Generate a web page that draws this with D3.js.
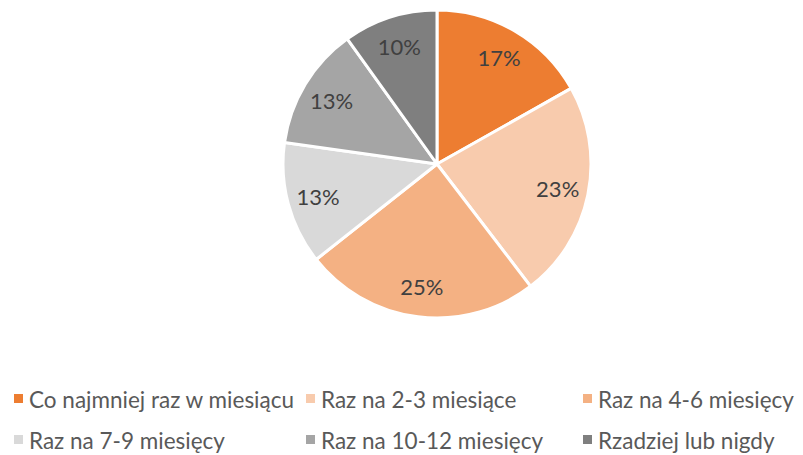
<!DOCTYPE html>
<html><head><meta charset="utf-8">
<script src="https://cdn.jsdelivr.net/npm/d3@7"></script>
<style>body{margin:0;background:#fff}svg{display:block}</style>
</head><body>
<svg id="c" width="803" height="455"></svg>
<script>
const categories = ["Co najmniej raz w miesiącu","Raz na 2-3 miesiące","Raz na 4-6 miesięcy","Raz na 7-9 miesięcy","Raz na 10-12 miesięcy","Rzadziej lub nigdy"];
const values = [17,23,25,13,13,10];
const colors = ["#ED7D31","#F8CBAD","#F4B183","#D9D9D9","#A5A5A5","#7F7F7F"];

const svg = d3.select("#c");
const font = "Lato, 'Open Sans', sans-serif";
const cx = 437, cy = 164, r = 154;
const pie = d3.pie().sort(null).value(d=>d);
const arcs = pie(values);
const arc = d3.arc().innerRadius(0).outerRadius(r);
const labelArc = d3.arc().innerRadius(r*0.8).outerRadius(r*0.8);
const g = svg.append("g").attr("transform",`translate(${cx},${cy})`);
g.selectAll("path").data(arcs).join("path")
  .attr("d",arc).attr("fill",(d,i)=>colors[i])
  .attr("stroke","#fff").attr("stroke-width",3).attr("stroke-linejoin","round");
g.selectAll("text").data(arcs).join("text")
  .attr("transform",d=>`translate(${labelArc.centroid(d)})`)
  .attr("text-anchor","middle").attr("dominant-baseline","central")
  .attr("font-family",font).attr("font-size",22).attr("fill","#404040")
  .text(d=>d.data+"%");

const colX = [14, 306, 583], rowY = [399, 440];
const lg = svg.append("g");
categories.forEach((c,i)=>{
  const x = colX[i%3], y = rowY[Math.floor(i/3)];
  lg.append("rect").attr("x",x).attr("y",y-5).attr("width",9).attr("height",9).attr("fill",colors[i]);
  lg.append("text").attr("x",x+15).attr("y",y).attr("dominant-baseline","central")
    .attr("font-family",font).attr("font-size",22.5).attr("fill","#595959").text(c);
});
</script>
</body></html>
